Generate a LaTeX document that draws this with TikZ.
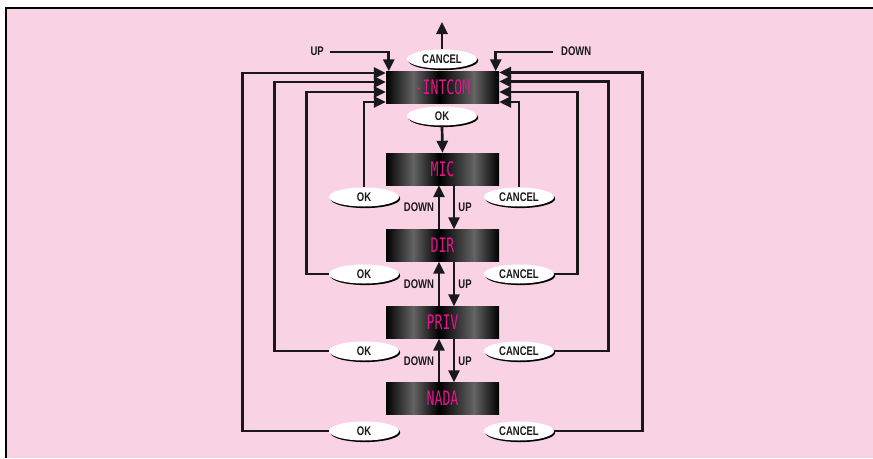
\documentclass[tikz,border=0pt]{standalone}
\usepackage{fontspec}
\setmainfont{Liberation Sans}
\newfontfamily\lbl{Liberation Sans}[FakeStretch=0.76]
\newfontfamily\lcdfont{DejaVu Sans Mono}[FakeStretch=0.66]
\usetikzlibrary{arrows.meta,shapes.geometric,shadows,calc}
\definecolor{bgpink}{RGB}{249,211,228}
\definecolor{lcdA}{RGB}{0,0,0}
\definecolor{lcdB}{RGB}{100,100,100}
\definecolor{lcdpink}{RGB}{228,20,140}
\definecolor{linec}{RGB}{25,25,25}
\pgfdeclarehorizontalshading{lcdshade}{100bp}{color(0bp)=(lcdA); color(25bp)=(lcdA); color(37bp)=(lcdB); color(48.5bp)=(lcdA); color(64bp)=(lcdB); color(75bp)=(lcdA); color(100bp)=(lcdA)}
\begin{document}
\begin{tikzpicture}[x=1pt,y=-1pt,
  lcdbox/.style={shading=lcdshade, minimum width=113pt, minimum height=32pt, inner sep=0pt,
     font=\lcdfont\fontsize{20}{20}\selectfont, text=lcdpink},
  btn/.style={ellipse, fill=white, minimum width=70pt, minimum height=19pt, inner sep=0pt,
     font=\lbl\bfseries\fontsize{12.5}{13}\selectfont, text=linec,
     drop shadow={shadow xshift=1.2pt, shadow yshift=-1.6pt, fill=black, opacity=1}},
  lab/.style={inner sep=0pt, font=\lbl\bfseries\fontsize{12.5}{13}\selectfont, text=linec},
  ln/.style={line width=2.7pt, draw=linec},
  arr/.style={ln, -{Triangle[length=12pt,width=11pt]}}
]
\useasboundingbox (0,0) rectangle (873,458);
\fill[white] (0,0) rectangle (873,458);
\fill[bgpink] (6,8) rectangle (873,458);
\draw[line width=1.8pt] (6,458) -- (6,8) -- (873,8);

% display boxes
\node[lcdbox] (intcom) at (442.5,87.5) {-INTCOM};
\node[lcdbox] (mic)  at (442.5,169) {MIC};
\node[lcdbox] (dir)  at (442.5,245.5) {DIR};
\node[lcdbox] (priv) at (442.5,322.5) {PRIV};
\node[lcdbox] (nada) at (442.5,398.5) {NADA};

\coordinate (topend) at (442,22);
\coordinate (upS) at (330,52);
\coordinate (downS) at (553,52);

% buttons
\node[btn] (cancelT) at (442,59) {CANCEL};
\node[btn] (okT) at (442,116) {OK};
\node[btn] (ok1) at (364,197) {OK};
\node[btn] (can1) at (519,197) {CANCEL};
\node[btn] (ok2) at (364,274) {OK};
\node[btn] (can2) at (519,274) {CANCEL};
\node[btn] (ok3) at (364,351) {OK};
\node[btn] (can3) at (519,351) {CANCEL};
\node[btn] (ok4) at (364,431) {OK};
\node[btn] (can4) at (519,431) {CANCEL};

% top
\draw[arr] (cancelT.north) -- (topend);
\draw[arr] (okT.south) -- (mic.north);
\node[lab, anchor=east] (upL) at (324,51) {UP};
\node[lab, anchor=west] (downL) at (561,51) {DOWN};
\draw[arr] (upS) -| ($(intcom.north west)+(3,0)$);
\draw[arr] (downS) -| ($(intcom.north east)+(-3.5,0)$);

% left loops (OK)
\draw[arr] (ok4.west) -| ($(intcom.west)+(-143,-14.5)$) -- ($(intcom.west)+(0,-14.5)$);
\draw[arr] (ok3.west) -| ($(intcom.west)+(-111,-5.5)$) -- ($(intcom.west)+(0,-5.5)$);
\draw[arr] (ok2.west) -| ($(intcom.west)+(-79,4.5)$) -- ($(intcom.west)+(0,4.5)$);
\draw[arr] (ok1.north) |- ($(intcom.west)+(0,14.5)$);

% right loops (CANCEL)
\draw[arr] (can4.east) -| ($(intcom.east)+(143,-15)$) -- ($(intcom.east)+(0,-15)$);
\draw[arr] (can3.east) -| ($(intcom.east)+(109,-6)$) -- ($(intcom.east)+(0,-6)$);
\draw[arr] (can2.east) -| ($(intcom.east)+(78,4.5)$) -- ($(intcom.east)+(0,4.5)$);
\draw[arr] (can1.north) |- ($(intcom.east)+(0,14.5)$);

% between displays
\draw[arr] ($(dir.north)+(-3.5,0)$) -- ($(mic.south)+(-3.5,0)$);
\draw[arr] ($(mic.south)+(11.5,0)$) -- ($(dir.north)+(11.5,0)$);
\draw[arr] ($(priv.north)+(-3.5,0)$) -- ($(dir.south)+(-3.5,0)$);
\draw[arr] ($(dir.south)+(11.5,0)$) -- ($(priv.north)+(11.5,0)$);
\draw[arr] ($(nada.north)+(-3.5,0)$) -- ($(priv.south)+(-3.5,0)$);
\draw[arr] ($(priv.south)+(11.5,0)$) -- ($(nada.north)+(11.5,0)$);

\node[lab] (d1) at (419,207) {DOWN};
\node[lab] (u1) at (465,207) {UP};
\node[lab] (d2) at (419,284) {DOWN};
\node[lab] (u2) at (465,284) {UP};
\node[lab] (d3) at (419,361) {DOWN};
\node[lab] (u3) at (465,361) {UP};
\end{tikzpicture}
\end{document}
